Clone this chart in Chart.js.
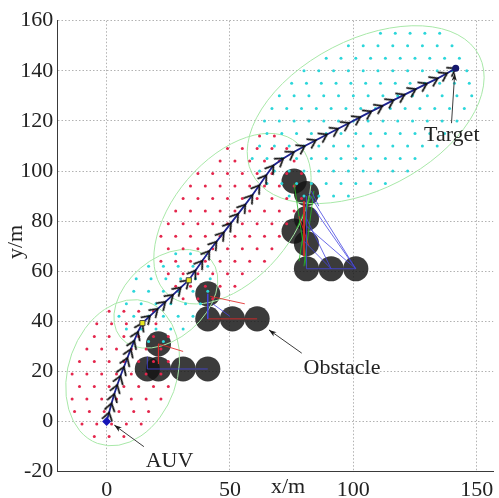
<!DOCTYPE html>
<html>
<head>
<meta charset="utf-8">
<script src="https://cdn.jsdelivr.net/npm/chart.js@4/dist/chart.umd.min.js"></script>
<style>
  html, body { margin: 0; padding: 0; background: #fff; overflow: hidden; }
  canvas { display: block; }
</style>
</head>
<body>
<canvas id="chart" width="499" height="498" style="width:499px;height:498px"></canvas>
<script>
// ---- axis ticks ----
const xTicks = [0, 50, 100, 150];
const yTicks = [-20, 0, 20, 40, 60, 80, 100, 120, 140, 160];

// ---- AUV start, waypoints and target ----
const startPoint = [0, 0];
const targetPoint = [141.5, 141];
const waypoints = [[14.5, 39.3], [33.3, 56.4]];

// ---- planned path (one arrow per step) ----
const pathPoints = [
  [0, 0], [1.0, 3.6], [2.0, 7.3], [3.1, 11.0], [4.3, 14.6], [5.6, 18.2], [7.0, 21.8],
  [8.4, 25.4], [9.8, 28.9], [11.2, 32.3], [12.7, 35.8], [14.5, 39.3],
  [17.6, 42.2], [20.7, 45.0], [23.8, 47.8], [26.9, 50.6], [30.0, 53.5], [33.3, 56.4],
  [36.0, 60.3], [38.8, 64.2], [41.6, 68.1], [44.5, 71.8], [47.5, 75.5], [50.4, 79.2],
  [53.3, 82.9], [56.2, 86.6], [59.1, 90.4], [61.9, 94.3], [64.7, 98.3], [67.6, 102.2],
  [71.6, 105.0], [75.9, 107.6], [80.3, 110.0], [84.8, 112.3], [89.3, 114.6], [93.8, 116.9],
  [98.3, 119.2], [102.8, 121.5], [107.3, 123.8], [111.8, 126.0], [116.3, 128.3], [120.8, 130.5],
  [125.3, 132.7], [129.8, 134.9], [134.2, 137.0], [138.0, 139.0], [141.5, 141.0]
];

// ---- obstacles (circle centres, common radius) ----
const obstacleCenters = [
  [16.5, 21], [21, 21], [31, 21], [41, 21], [21, 31],
  [41, 51], [41, 41], [51, 41], [61, 41],
  [76, 96], [81, 91], [81, 81], [76, 76], [81, 71], [81, 61], [91, 61], [101, 61]
];
const obstacleRadius = 5.1;

// ---- links between obstacles [x1, y1, x2, y2] ----
const blueLinks = [
  [16.5, 21, 41, 21], [16.5, 21, 16.5, 26], [41, 51, 41, 41], [43, 47, 50, 42],
  [81, 61, 101, 61], [101, 61, 84, 85], [101, 61, 82, 91], [101, 61, 81, 78],
  [91, 61, 81, 81], [91, 61, 80, 72], [81, 61, 81, 90], [83, 92, 86, 86]
];
const redLinks = [
  [21, 31, 21, 23], [21, 31, 31, 28], [41, 41, 61, 41], [42, 50, 56, 47],
  [80, 88, 80, 66], [78, 82, 82, 70]
];
const greenLinks = [
  [76, 95, 81, 62], [82, 90, 78, 64], [77, 77, 83, 90], [84, 92, 80, 62]
];

// ---- search regions: centre, semi-axes, tilt (deg) ----
const ellipseCenters = [[6.5, 19.5], [24, 49], [51, 81], [105, 122.5]];
const ellipseAxes = [[30, 22], [24, 16], [40, 24], [51.7, 29.9]];
const ellipseAngles = [70, 40, 49, 27];

// ---- sample points, as rows: [y, [x...]] ----
const redRowsNear = [
  [-6, [-5, 1, 7]],
  [-1, [-10, -4, 2, 8, 14]],
  [4, [-13, -7, -1, 5, 11, 17]],
  [9, [-14, -8, -2, 4, 10, 16, 22]],
  [14, [-11, -5, 1, 7, 13, 19, 25]],
  [19, [-14, -8, -2, 4, 10, 16, 22]],
  [24, [-11, -5, 1, 7, 13, 19, 25]],
  [29, [-8, -2, 4, 10, 16, 22]],
  [34, [-5, 1, 7, 13, 19, 25]],
  [39, [-4, 2, 8, 14, 20]],
  [44, [1, 7, 13, 19]]
];
const redRowsMid = [
  [49, [31, 37, 43]],
  [54, [28, 34, 40, 46, 52]],
  [59, [25, 31, 37, 43, 49, 55]],
  [64, [22, 28, 34, 40, 46, 52, 58, 64]],
  [69, [25, 31, 37, 43, 49, 55, 61, 67]],
  [74, [22, 28, 34, 40, 46, 52, 58, 64, 70]],
  [79, [25, 31, 37, 43, 49, 55, 61, 67, 73]],
  [84, [28, 34, 40, 46, 52, 58, 64, 70, 76]],
  [89, [31, 37, 43, 49, 55, 61, 67, 73, 79]],
  [94, [34, 40, 46, 52, 58, 64, 70, 76]],
  [99, [37, 43, 49, 55, 61, 67, 73, 79]],
  [104, [46, 52, 58, 64, 70, 76]],
  [109, [49, 55, 61, 67, 73]],
  [114, [62, 68]]
];
const cyanRowsNear = [
  [32, [11, 17, 23]],
  [37, [8, 14, 20, 26, 31]],
  [42, [5, 11, 17, 23, 29, 35]],
  [47, [8, 14, 20, 26, 32, 38]],
  [52, [11, 17, 23, 29, 35, 41]],
  [57, [12, 18, 24, 30, 36, 42]],
  [62, [17, 23, 29, 35, 41]],
  [67, [28, 34]]
];
const cyanRowsFar = [
  [90, [74, 80, 86, 92, 98]],
  [95, [65, 71, 77, 83, 89, 95, 101, 107, 113]],
  [100, [62, 68, 74, 80, 86, 92, 98, 104, 110, 116, 122]],
  [105, [59, 65, 71, 77, 83, 89, 95, 101, 107, 113, 119, 125]],
  [110, [62, 68, 74, 80, 86, 92, 98, 104, 110, 116, 122, 128, 134]],
  [115, [65, 71, 77, 83, 89, 95, 101, 107, 113, 119, 125, 131, 137]],
  [120, [64, 70, 76, 82, 88, 94, 100, 106, 112, 118, 124, 130, 136, 142]],
  [125, [67, 73, 79, 85, 91, 97, 103, 109, 115, 121, 127, 133, 139, 145]],
  [130, [70, 76, 82, 88, 94, 100, 106, 112, 118, 124, 130, 136, 142, 148]],
  [135, [75, 81, 87, 93, 99, 105, 111, 117, 123, 129, 135, 141, 147]],
  [140, [80, 86, 92, 98, 104, 110, 116, 122, 128, 134, 140, 146]],
  [145, [89, 95, 101, 107, 113, 119, 125, 131, 137, 143]],
  [150, [98, 104, 110, 116, 122, 128, 134, 140]],
  [155, [111, 117, 123, 129, 135]]
];

// ---- callouts ----
const notes = [
  { text: 'AUV', at: [25.5, -18.3], from: [15.1, -10.0], to: [3.1, -1.4] },
  { text: 'Obstacle', at: [95.4, 19.0], from: [79.1, 27.3], to: [65.8, 36.6] },
  { text: 'Target', at: [139.9, 111.8], from: [139.8, 119.1], to: [141.1, 139.0] }
];

// ---- helpers ----
const toXY = p => ({ x: p[0], y: p[1] });
const fromRows = rows => rows.flatMap(([y, xs]) => xs.map(x => ({ x, y })));
const fromLinks = links => links.flatMap(s => [
  { x: s[0], y: s[1] }, { x: s[2], y: s[3] }, { x: NaN, y: NaN }
]);

const SERIF = '"Liberation Serif", "Times New Roman", serif';

// arrowhead glyph used along the path (tip at the centre)
const chevron = (() => {
  const cv = document.createElement('canvas');
  cv.width = 20; cv.height = 20;
  const g = cv.getContext('2d');
  g.strokeStyle = '#0d0d0d';
  g.lineWidth = 1.7;
  g.lineJoin = 'miter';
  g.beginPath();
  g.moveTo(2.2, 4.8); g.lineTo(10, 10); g.lineTo(2.2, 15.2);
  g.stroke();
  return cv;
})();

function obstaclePixelRadius(c) {
  const s = c.chart.scales.x;
  return Math.abs(s.getPixelForValue(obstacleRadius) - s.getPixelForValue(0));
}

function pathRotation(c) {
  const i = c.dataIndex;
  if (!i) return 0;
  const xs = c.chart.scales.x, ys = c.chart.scales.y;
  const p = pathPoints[i], q = pathPoints[i - 1];
  const dx = xs.getPixelForValue(p[0]) - xs.getPixelForValue(q[0]);
  const dy = ys.getPixelForValue(p[1]) - ys.getPixelForValue(q[1]);
  return Math.atan2(dy, dx) * 180 / Math.PI;
}

// region outlines, drawn right after the obstacles
const ellipsePlugin = {
  id: 'regions',
  afterDatasetDraw(chart, args) {
    if (chart.data.datasets[args.index].label !== 'Obstacles') return;
    const { ctx, chartArea: a, scales: { x, y } } = chart;
    const kx = x.getPixelForValue(1) - x.getPixelForValue(0);
    const ky = y.getPixelForValue(0) - y.getPixelForValue(1);
    ctx.save();
    ctx.beginPath();
    ctx.rect(a.left, a.top, a.right - a.left, a.bottom - a.top);
    ctx.clip();
    ctx.strokeStyle = '#a8e8a8';
    ctx.lineWidth = 1;
    ellipseCenters.forEach((c, i) => {
      ctx.save();
      ctx.beginPath();
      ctx.translate(x.getPixelForValue(c[0]), y.getPixelForValue(c[1]));
      ctx.scale(kx, -ky);
      ctx.rotate(ellipseAngles[i] * Math.PI / 180);
      ctx.ellipse(0, 0, ellipseAxes[i][0], ellipseAxes[i][1], 0, 0, Math.PI * 2);
      ctx.restore();
      ctx.stroke();
    });
    ctx.restore();
  }
};

// callout arrows and their labels
const notePlugin = {
  id: 'notes',
  afterDatasetsDraw(chart) {
    const { ctx, scales: { x, y } } = chart;
    ctx.save();
    notes.forEach(n => {
      const x1 = x.getPixelForValue(n.from[0]), y1 = y.getPixelForValue(n.from[1]);
      const x2 = x.getPixelForValue(n.to[0]), y2 = y.getPixelForValue(n.to[1]);
      ctx.strokeStyle = '#3c3c3c';
      ctx.lineWidth = 1;
      ctx.beginPath(); ctx.moveTo(x1, y1); ctx.lineTo(x2, y2); ctx.stroke();
      const ang = Math.atan2(y2 - y1, x2 - x1);
      ctx.fillStyle = '#1a1a1a';
      ctx.beginPath();
      ctx.moveTo(x2, y2);
      ctx.lineTo(x2 - 8 * Math.cos(ang - 0.33), y2 - 8 * Math.sin(ang - 0.33));
      ctx.lineTo(x2 - 5.5 * Math.cos(ang), y2 - 5.5 * Math.sin(ang));
      ctx.lineTo(x2 - 8 * Math.cos(ang + 0.33), y2 - 8 * Math.sin(ang + 0.33));
      ctx.closePath();
      ctx.fill();
      ctx.font = '22px ' + SERIF;
      ctx.fillStyle = '#222';
      ctx.textAlign = 'center';
      ctx.textBaseline = 'alphabetic';
      ctx.fillText(n.text, x.getPixelForValue(n.at[0]), y.getPixelForValue(n.at[1]));
    });
    ctx.restore();
  }
};

// axis titles
const axisTitlePlugin = {
  id: 'axisTitles',
  afterDraw(chart) {
    const { ctx } = chart;
    ctx.save();
    ctx.font = '22px ' + SERIF;
    ctx.fillStyle = '#222';
    ctx.textAlign = 'center';
    ctx.textBaseline = 'alphabetic';
    ctx.fillText('x/m', 288, 493);
    ctx.translate(22, 242);
    ctx.rotate(-Math.PI / 2);
    ctx.fillText('y/m', 0, 0);
    ctx.restore();
  }
};

new Chart(document.getElementById('chart'), {
  type: 'scatter',
  data: {
    datasets: [
      {
        label: 'Start',
        data: [toXY(startPoint)],
        pointStyle: 'rectRot', pointRadius: 4.5,
        backgroundColor: '#1515b8', borderColor: '#1515b8', borderWidth: 0,
        order: 0
      },
      {
        label: 'Target',
        data: [toXY(targetPoint)],
        pointStyle: 'circle', pointRadius: 3.5,
        backgroundColor: '#16196e', borderColor: '#16196e', borderWidth: 0,
        order: 0
      },
      {
        label: 'Waypoints',
        data: waypoints.map(toXY),
        pointStyle: 'rect', pointRadius: 3.6,
        backgroundColor: '#e8e81c', borderColor: '#444', borderWidth: 1,
        order: 1
      },
      {
        label: 'Path',
        data: pathPoints.map(toXY),
        showLine: true,
        borderColor: '#1c2390', borderWidth: 1.8,
        pointStyle: c => (c.dataIndex === 0 ? 'circle' : chevron),
        pointRadius: c => (c.dataIndex === 0 ? 0 : 4),
        pointRotation: pathRotation,
        order: 2
      },
      {
        label: 'Blue links',
        data: fromLinks(blueLinks), showLine: true, spanGaps: false,
        borderColor: 'rgba(70,70,225,0.8)', borderWidth: 1, pointRadius: 0,
        order: 6
      },
      {
        label: 'Red links',
        data: fromLinks(redLinks), showLine: true, spanGaps: false,
        borderColor: 'rgba(225,40,40,0.85)', borderWidth: 1, pointRadius: 0,
        order: 6
      },
      {
        label: 'Green links',
        data: fromLinks(greenLinks), showLine: true, spanGaps: false,
        borderColor: 'rgba(40,185,40,0.85)', borderWidth: 1, pointRadius: 0,
        order: 6
      },
      {
        label: 'Red samples',
        data: fromRows(redRowsNear).concat(fromRows(redRowsMid)),
        pointRadius: 1.5, borderWidth: 0,
        backgroundColor: '#e4264c',
        order: 7
      },
      {
        label: 'Cyan samples',
        data: fromRows(cyanRowsNear).concat(fromRows(cyanRowsFar)),
        pointRadius: 1.5, borderWidth: 0,
        backgroundColor: '#2cd6da',
        order: 7
      },
      {
        label: 'Obstacles',
        data: obstacleCenters.map(toXY),
        pointStyle: 'circle',
        pointRadius: obstaclePixelRadius,
        backgroundColor: 'rgba(22,22,22,0.84)', borderWidth: 0,
        order: 9
      }
    ]
  },
  options: {
    responsive: false,
    animation: false,
    events: [],
    layout: { padding: { top: 20.7, right: 0, bottom: 0, left: 0 } },
    plugins: { legend: { display: false }, tooltip: { enabled: false } },
    scales: {
      x: {
        type: 'linear', min: -20, max: 156.7,
        afterBuildTicks: s => { s.ticks = xTicks.map(v => ({ value: v })); },
        afterFit: s => { s.height = 26.3; s.paddingLeft = 0; s.paddingRight = 0; },
        grid: { color: '#b2b2b2', lineWidth: 1, drawTicks: false },
        border: { display: true, color: '#3a3a3a', width: 1, dash: [1.5, 2] },
        ticks: { color: '#222', padding: 5, maxRotation: 0, font: { family: SERIF, size: 22 } }
      },
      y: {
        type: 'linear', min: -20, max: 160,
        afterBuildTicks: s => { s.ticks = yTicks.map(v => ({ value: v })); },
        afterFit: s => { s.width = 57.3; s.paddingTop = 0; s.paddingBottom = 0; },
        grid: { color: '#b2b2b2', lineWidth: 1, drawTicks: false },
        border: { display: true, color: '#3a3a3a', width: 1, dash: [1.5, 2] },
        ticks: { color: '#222', padding: 4, font: { family: SERIF, size: 22 } }
      }
    }
  },
  plugins: [ellipsePlugin, notePlugin, axisTitlePlugin]
});
</script>
</body>
</html>
